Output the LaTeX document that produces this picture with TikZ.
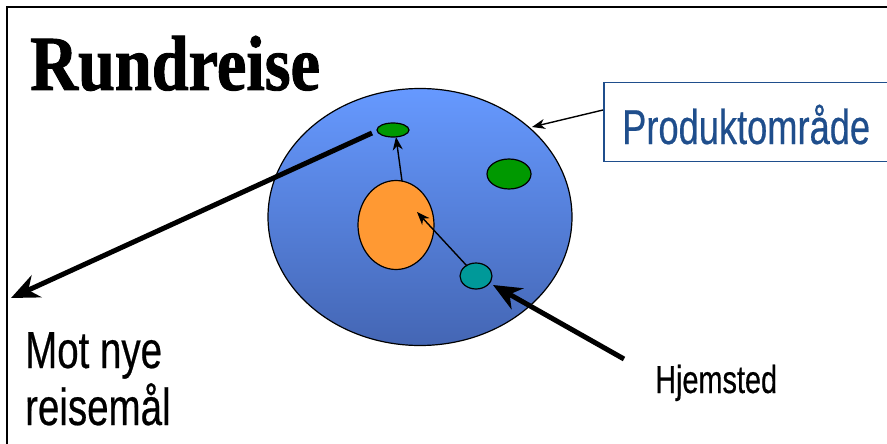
\documentclass[tikz,border=0pt]{standalone}
\usepackage{fontspec}
\usetikzlibrary{arrows.meta,shapes.geometric}
\newfontfamily\titlefont[FakeStretch=0.85,FakeBold=1.2]{Liberation Serif}
\newfontfamily\labfont[FakeStretch=0.74,FakeBold=0.4]{Liberation Sans}
\definecolor{blueTop}{HTML}{6699FF}
\definecolor{blueBot}{HTML}{4466B4}
\definecolor{dotgreen}{HTML}{009900}
\definecolor{dotorange}{HTML}{FF9933}
\definecolor{dotteal}{HTML}{009999}
\definecolor{navy}{HTML}{1F4E8C}
\begin{document}
\begin{tikzpicture}[x=1pt,y=-1pt,
  blob/.style={ellipse,draw=black,line width=1.2pt,inner sep=0pt},
  thin arrow/.style={draw=black,line width=1.4pt,-{Stealth[length=13pt,width=10pt,inset=4pt]}},
  thick arrow/.style={draw=black,line width=5pt,-{Stealth[length=28pt,width=24pt,inset=9pt]}},
  labeltext/.style={inner sep=0pt,anchor=base west}]
\useasboundingbox (0,0) rectangle (887,444);
\fill[white] (0,0) rectangle (887,444);
% frame
\draw[line width=1.5pt] (7,444) -- (7,7) -- (887,7);
% title
\node[labeltext] (title) at (30,90) {\titlefont\bfseries\fontsize{78}{80}\selectfont Rundreise};
% big area
\node[ellipse,draw=black,line width=1.2pt,minimum width=304pt,minimum height=257pt,inner sep=0pt,
  top color=blueTop,bottom color=blueBot] (area) at (420,217) {};
% dots
\node[blob,fill=dotgreen,minimum width=32pt,minimum height=14pt] (g1) at (393,130) {};
\node[blob,fill=dotgreen,minimum width=44pt,minimum height=30pt] (g2) at (509,174) {};
\node[blob,fill=dotorange,minimum width=76pt,minimum height=89pt] (or) at (396,225) {};
\node[blob,fill=dotteal,minimum width=32pt,minimum height=26pt] (te) at (476,276) {};
% product box
\node[draw=navy,line width=1.5pt,fill=white,minimum width=290pt,minimum height=79pt,anchor=west,inner sep=0pt] (box) at (603,122) {};
\node[labeltext,text=navy] (prodtxt) at (622,144) {\labfont\fontsize{49}{50}\selectfont Produktområde};
% labels
\node[labeltext] (mot) at (25,368) {\labfont\fontsize{52}{57}\selectfont Mot nye};
\node[labeltext] (reis) at (25,425) {\labfont\fontsize{52}{57}\selectfont reisemål};
\node[labeltext] (hjem) at (655,393) {\labfont\fontsize{39}{40}\selectfont Hjemsted};
% connectors
\coordinate (orTip) at (417,212);
\coordinate (g1Tip) at (396,137);
\coordinate (orTop) at (402,181);
\coordinate (teStart) at (467,266);
\coordinate (g1Out) at (372,133);
\coordinate (leftEnd) at (11,298);
\coordinate (hjStart) at (624,359);
\coordinate (teTip) at (493,285);
\coordinate (boxStart) at (603,110);
\coordinate (areaTip) at (532,127);
\draw[thin arrow] (teStart) -- (orTip);
\draw[thin arrow] (orTop) -- (g1Tip);
\draw[thick arrow] (g1Out) -- (leftEnd);
\draw[thick arrow] (hjStart) -- (teTip);
\draw[thin arrow] (boxStart) -- (areaTip);
\end{tikzpicture}
\end{document}
